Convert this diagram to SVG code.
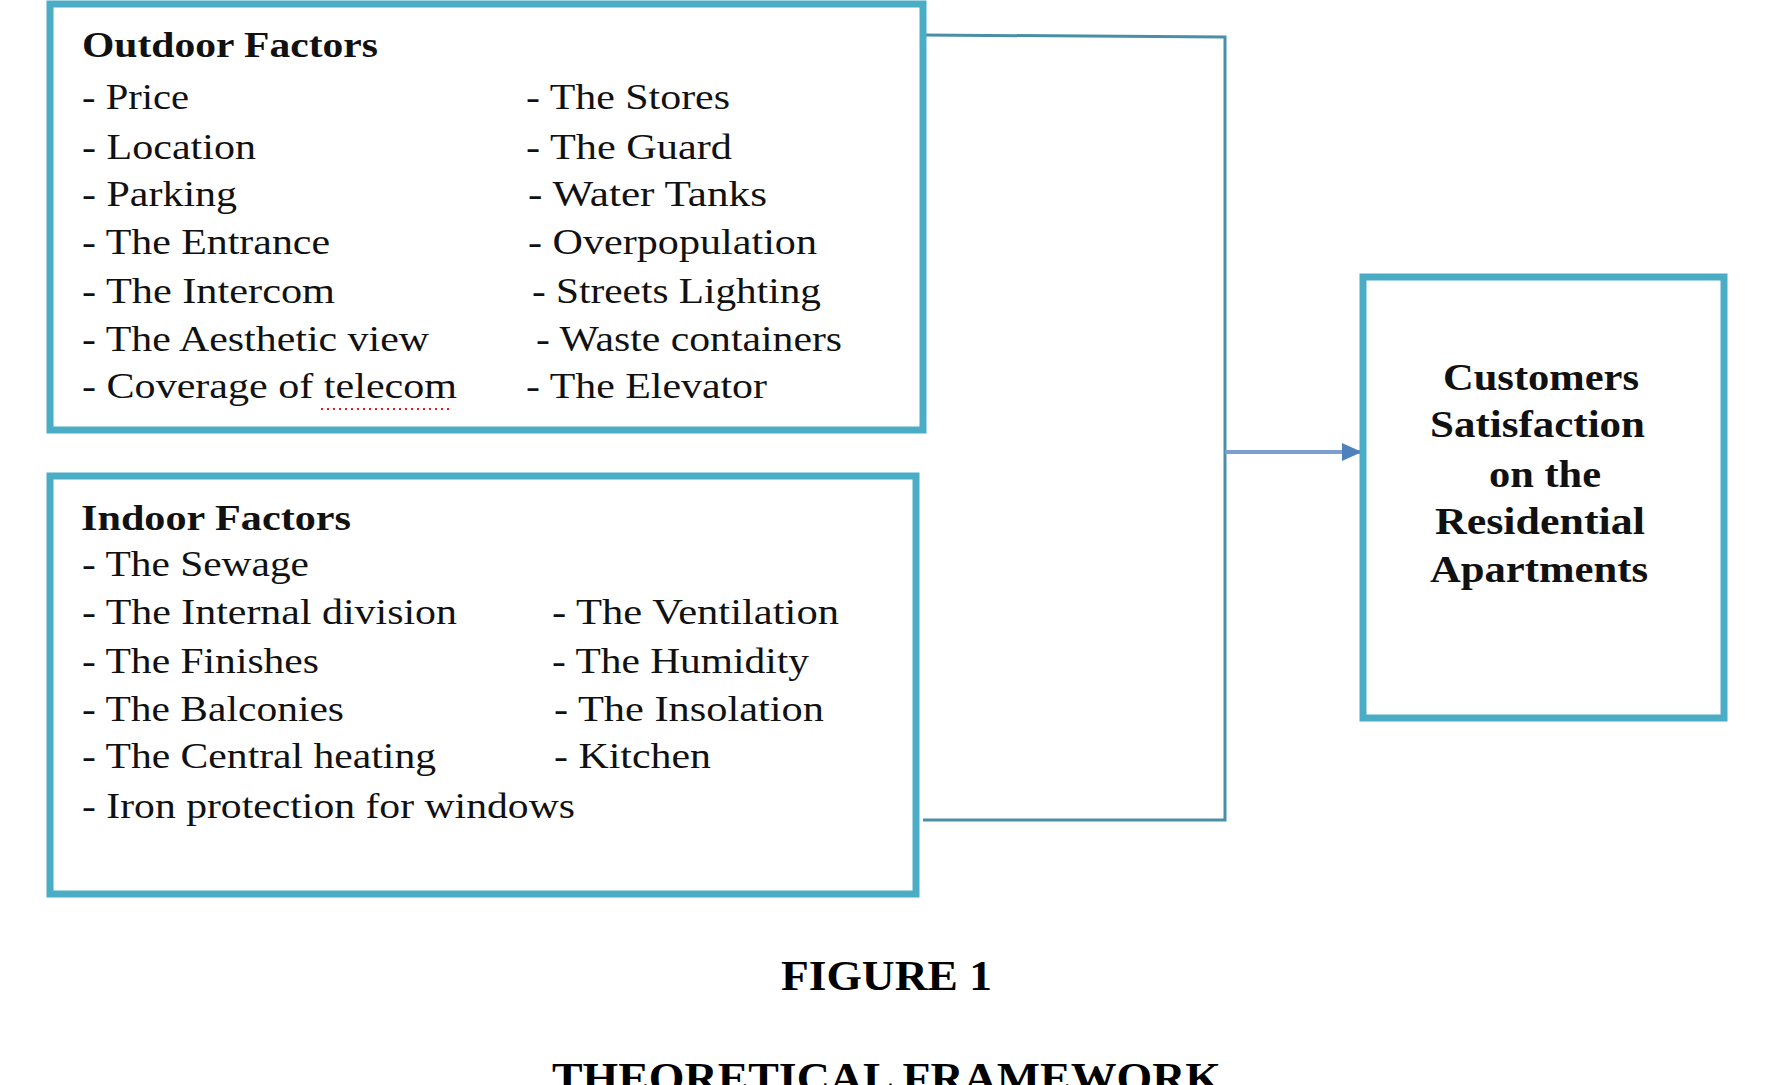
<svg xmlns="http://www.w3.org/2000/svg" width="1768" height="1085" viewBox="0 0 1768 1085">
<style>
.box{fill:#fff;stroke:#4bacc6;stroke-width:7}
.t{font-family:"Liberation Serif",serif;font-size:36px;fill:#111}
.b{font-family:"Liberation Serif",serif;font-size:36px;font-weight:bold;fill:#111}
.c{font-family:"Liberation Serif",serif;font-size:37px;font-weight:bold;fill:#111}
.f{font-family:"Liberation Serif",serif;font-size:43px;font-weight:bold;fill:#000}
.ln{fill:none;stroke:#4a8fa8;stroke-width:3}
</style>
<defs><marker id="ar" markerWidth="22" markerHeight="22" refX="20" refY="11" orient="auto" markerUnits="userSpaceOnUse" viewBox="0 0 22 22"><path d="M0,2 L20,11 L0,20 z" fill="#4f81bd"/></marker></defs>
<rect width="1768" height="1085" fill="#fff"/>
<g id="connectors">
<path class="ln" d="M923,35 L1225,37 L1225,820 L923,820"/>
<path d="M1225,452 L1362,452" stroke="#7a9fd0" stroke-width="4" fill="none" marker-end="url(#ar)"/>
</g>
<g id="outdoor" lengthAdjust="spacingAndGlyphs">
<rect class="box" x="50" y="4" width="873" height="426"/>
<text class="b" x="82" y="57" textLength="296" lengthAdjust="spacingAndGlyphs">Outdoor Factors</text>
<text class="t" x="82" y="109" textLength="107" lengthAdjust="spacingAndGlyphs">- Price</text>
<text class="t" x="82" y="159" textLength="174" lengthAdjust="spacingAndGlyphs">- Location</text>
<text class="t" x="82" y="206" textLength="155" lengthAdjust="spacingAndGlyphs">- Parking</text>
<text class="t" x="82" y="254" textLength="248" lengthAdjust="spacingAndGlyphs">- The Entrance</text>
<text class="t" x="82" y="303" textLength="253" lengthAdjust="spacingAndGlyphs">- The Intercom</text>
<text class="t" x="82" y="351" textLength="347" lengthAdjust="spacingAndGlyphs">- The Aesthetic view</text>
<text class="t" x="82" y="398" textLength="375" lengthAdjust="spacingAndGlyphs">- Coverage of telecom</text>
<line x1="321" y1="409" x2="453" y2="409" stroke="#e02020" stroke-width="2" stroke-dasharray="2,4"/>
<text class="t" x="526" y="109" textLength="204" lengthAdjust="spacingAndGlyphs">- The Stores</text>
<text class="t" x="526" y="159" textLength="206" lengthAdjust="spacingAndGlyphs">- The Guard</text>
<text class="t" x="528" y="206" textLength="239" lengthAdjust="spacingAndGlyphs">- Water Tanks</text>
<text class="t" x="528" y="254" textLength="289" lengthAdjust="spacingAndGlyphs">- Overpopulation</text>
<text class="t" x="532" y="303" textLength="289" lengthAdjust="spacingAndGlyphs">- Streets Lighting</text>
<text class="t" x="536" y="351" textLength="306" lengthAdjust="spacingAndGlyphs">- Waste containers</text>
<text class="t" x="526" y="398" textLength="241" lengthAdjust="spacingAndGlyphs">- The Elevator</text>
</g>
<g id="indoor">
<rect class="box" x="50" y="476" width="866" height="418"/>
<text class="b" x="81" y="530" textLength="270" lengthAdjust="spacingAndGlyphs">Indoor Factors</text>
<text class="t" x="82" y="576" textLength="227" lengthAdjust="spacingAndGlyphs">- The Sewage</text>
<text class="t" x="82" y="624" textLength="375" lengthAdjust="spacingAndGlyphs">- The Internal division</text>
<text class="t" x="82" y="673" textLength="237" lengthAdjust="spacingAndGlyphs">- The Finishes</text>
<text class="t" x="82" y="721" textLength="262" lengthAdjust="spacingAndGlyphs">- The Balconies</text>
<text class="t" x="82" y="768" textLength="354" lengthAdjust="spacingAndGlyphs">- The Central heating</text>
<text class="t" x="82" y="818" textLength="493" lengthAdjust="spacingAndGlyphs">- Iron protection for windows</text>
<text class="t" x="552" y="624" textLength="287" lengthAdjust="spacingAndGlyphs">- The Ventilation</text>
<text class="t" x="552" y="673" textLength="257" lengthAdjust="spacingAndGlyphs">- The Humidity</text>
<text class="t" x="554" y="721" textLength="270" lengthAdjust="spacingAndGlyphs">- The Insolation</text>
<text class="t" x="554" y="768" textLength="157" lengthAdjust="spacingAndGlyphs">- Kitchen</text>
</g>
<g id="satisfaction">
<rect class="box" x="1363" y="277" width="361" height="441"/>
<text class="c" x="1443" y="390" textLength="196" lengthAdjust="spacingAndGlyphs">Customers</text>
<text class="c" x="1430" y="437" textLength="215" lengthAdjust="spacingAndGlyphs">Satisfaction</text>
<text class="c" x="1489" y="487" textLength="112" lengthAdjust="spacingAndGlyphs">on the</text>
<text class="c" x="1435" y="534" textLength="210" lengthAdjust="spacingAndGlyphs">Residential</text>
<text class="c" x="1430" y="582" textLength="218" lengthAdjust="spacingAndGlyphs">Apartments</text>
</g>
<text class="f" x="781" y="990" textLength="211" lengthAdjust="spacingAndGlyphs">FIGURE 1</text>
<text class="f" x="552" y="1092" textLength="669" lengthAdjust="spacingAndGlyphs">THEORETICAL FRAMEWORK</text>
</svg>
